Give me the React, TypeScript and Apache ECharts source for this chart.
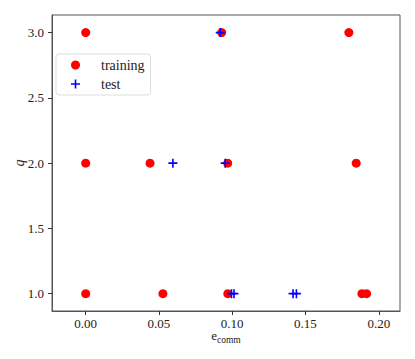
import React, { useEffect, useRef } from "react";
import * as echarts from "echarts";

const trainingX = [0.0, 0.0928, 0.1796, 0.0, 0.0439, 0.0969, 0.1846, 0.0, 0.0527, 0.097, 0.1885, 0.1917];
const trainingQ = [3, 3, 3, 2, 2, 2, 2, 1, 1, 1, 1, 1];
const testX = [0.0918, 0.0595, 0.0952, 0.0995, 0.1012, 0.1415, 0.1438];
const testQ = [3, 2, 2, 1, 1, 1, 1];
const xTicks = [0.0, 0.05, 0.1, 0.15, 0.2];
const yTicks = [1.0, 1.5, 2.0, 2.5, 3.0];

const FONT = "'Liberation Serif', 'DejaVu Serif', serif";
const PLUS = "path://M-0.8,-4.5 h1.6 v9 h-1.6 z M-4.5,-0.8 h9 v1.6 h-9 z";

export default function App() {
  const ref = useRef<HTMLDivElement>(null);
  useEffect(() => {
    if (!ref.current) return;
    const chart = echarts.init(ref.current, null, { renderer: "svg" });
    const axisCommon = {
      axisLine: { show: true, onZero: false, lineStyle: { color: "#555", width: 1 } },
      axisTick: { show: true, length: 4, lineStyle: { color: "#333", width: 1 } },
      splitLine: { show: false },
    };
    chart.setOption({
      animation: false,
      backgroundColor: "#fff",
      grid: {
        left: 52,
        right: 15,
        top: 15,
        bottom: 48,
        containLabel: false,
        outerBoundsMode: "none",
        show: true,
        borderColor: "#555",
        borderWidth: 1,
      },
      legend: {
        orient: "vertical",
        left: 56,
        top: 54,
        padding: [4, 6, 4, 15],
        itemWidth: 9,
        itemHeight: 9,
        itemGap: 5,
        borderColor: "#ddd",
        borderWidth: 1,
        borderRadius: 3,
        backgroundColor: "rgba(255,255,255,0.8)",
        textStyle: { fontFamily: FONT, fontSize: 14, color: "#222", padding: [0, 0, 0, 16] },
        data: [
          { name: "training", icon: "circle" },
          { name: "test", icon: PLUS },
        ],
      },
      xAxis: {
        type: "value",
        min: -0.023,
        max: 0.2145,
        ...axisCommon,
        axisTick: { ...axisCommon.axisTick, customValues: xTicks },
        axisLabel: {
          customValues: xTicks,
          formatter: (v: number) => v.toFixed(2),
          fontFamily: FONT,
          fontSize: 13,
          color: "#222",
          margin: 6,
        },
        name: "{e|e}{s|comm}",
        nameLocation: "middle",
        nameGap: 18,
        nameMoveOverlap: false,
        nameTextStyle: {
          rich: {
            e: { fontFamily: FONT, fontSize: 13, color: "#222", verticalAlign: "top" },
            s: { fontFamily: FONT, fontSize: 9.5, color: "#222", padding: [6, 0, 0, 0] },
          },
        },
      },
      yAxis: {
        type: "value",
        min: 0.867,
        max: 3.135,
        ...axisCommon,
        axisTick: { ...axisCommon.axisTick, customValues: yTicks },
        axisLabel: {
          customValues: yTicks,
          formatter: (v: number) => v.toFixed(1),
          fontFamily: FONT,
          fontSize: 13,
          color: "#222",
          margin: 8,
        },
        name: "q",
        nameLocation: "middle",
        nameGap: 26,
        nameMoveOverlap: false,
        nameRotate: 90,
        nameTextStyle: { fontFamily: FONT, fontSize: 14, fontStyle: "italic", color: "#222" },
      },
      series: [
        {
          name: "training",
          type: "scatter",
          symbol: "circle",
          symbolSize: 9,
          itemStyle: { color: "#ff0000", opacity: 1 },
          data: trainingX.map((x, i) => [x, trainingQ[i]]),
          z: 2,
        },
        {
          name: "test",
          type: "scatter",
          symbol: PLUS,
          symbolSize: 9,
          itemStyle: { color: "#0000ff", opacity: 1 },
          data: testX.map((x, i) => [x, testQ[i]]),
          z: 3,
        },
      ],
    });
    return () => chart.dispose();
  }, []);
  return (
    <div
      ref={ref}
      style={{ position: "absolute", left: 0, top: 0, width: 415, height: 359 }}
    />
  );
}
